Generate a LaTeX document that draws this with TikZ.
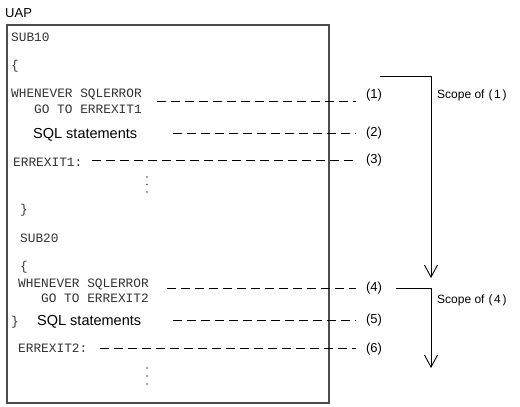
\documentclass[tikz,border=0pt]{standalone}
\usepackage{fontspec}
\setmainfont{Liberation Sans}
\newfontfamily\monof{Liberation Mono}
\usetikzlibrary{arrows.meta}
\begin{document}
\begin{tikzpicture}[x=1pt,y=-1pt,
  code/.style={anchor=base west,inner sep=0pt,font=\monof\fontsize{12.8}{14}\selectfont,text=black!80},
  sqltext/.style={anchor=base west,inner sep=0pt,font=\fontsize{14.5}{16}\selectfont},
  lbl/.style={inner sep=0pt,font=\fontsize{13}{15}\selectfont},
  scopelbl/.style={inner sep=0pt,anchor=west,font=\fontsize{12}{14}\selectfont},
  leader/.style={draw=black,line width=0.9pt,dash pattern=on 9pt off 5pt},
  scopeline/.style={draw=black,line width=0.9pt,-{Straight Barb[length=12pt,width=13pt]}},
  boxline/.style={draw=gray!60!black,line width=1.3pt}]
\useasboundingbox (0,0) rectangle (520,407);
% title
\node[anchor=base west,inner sep=0pt,font=\fontsize{13}{15}\selectfont] (uap) at (5,17) {UAP};
% frame
\draw[boxline] (7,25) rectangle (329,403);
% code lines
\node[code] (sub10) at (11,41.7) {SUB10};
\node[code] (ob1) at (11,69) {\{};
\node[code] (wh1) at (11,97) {WHENEVER SQLERROR};
\node[code] (go1) at (34,113) {GO TO ERREXIT1};
\node[sqltext] (sql1) at (33,138) {SQL statements};
\node[code] (ex1) at (13,166) {ERREXIT1:};
\node[code] (cb1) at (20,213) {\}};
\node[code] (sub20) at (20,242) {SUB20};
\node[code] (ob2) at (20,270) {\{};
\node[code] (wh2) at (18,287.5) {WHENEVER SQLERROR};
\node[code] (go2) at (41,302) {GO TO ERREXIT2};
\node[code] (cb2) at (11,325) {\}};
\node[sqltext] (sql2) at (37,325) {SQL statements};
\node[code] (ex2) at (18,352) {ERREXIT2:};
% vertical dots
\foreach \y in {177,184.5,192}{\fill[black!70] (147,\y) circle (0.9pt);}
\foreach \y in {368,376,384}{\fill[black!70] (147,\y) circle (0.9pt);}
% labels
\node[lbl] (l1) at (374,95) {(1)};
\node[lbl] (l2) at (374,133) {(2)};
\node[lbl] (l3) at (374,160.5) {(3)};
\node[lbl] (l4) at (374,288.5) {(4)};
\node[lbl] (l5) at (374,320.5) {(5)};
\node[lbl] (l6) at (374,349) {(6)};
% leader coordinates
\coordinate (a1) at (157,101); \coordinate (b1) at (356,101);
\coordinate (a2) at (173,133); \coordinate (b2) at (356,133);
\coordinate (a3) at (92,160);  \coordinate (b3) at (356,160);
\coordinate (a4) at (167,288); \coordinate (b4) at (356,288);
\coordinate (a5) at (173,320); \coordinate (b5) at (356,320);
\coordinate (a6) at (100,348); \coordinate (b6) at (356,348);
\foreach \i in {1,...,6}{\draw[leader] (a\i) -- (b\i);}
% scope arrows
\coordinate (s1a) at (380,76); \coordinate (s1b) at (431,278);
\coordinate (s2a) at (396,288); \coordinate (s2b) at (431,368);
\draw[scopeline] (s1a) -| (s1b);
\draw[scopeline] (s2a) -| (s2b);
\node[scopelbl] (sc1) at (437,95) {Scope of\hspace{4pt}(\hspace{1.5pt}1\hspace{2pt})};
\node[scopelbl] (sc4) at (437,300) {Scope of\hspace{4pt}(\hspace{1.5pt}4\hspace{2pt})};
\end{tikzpicture}
\end{document}
